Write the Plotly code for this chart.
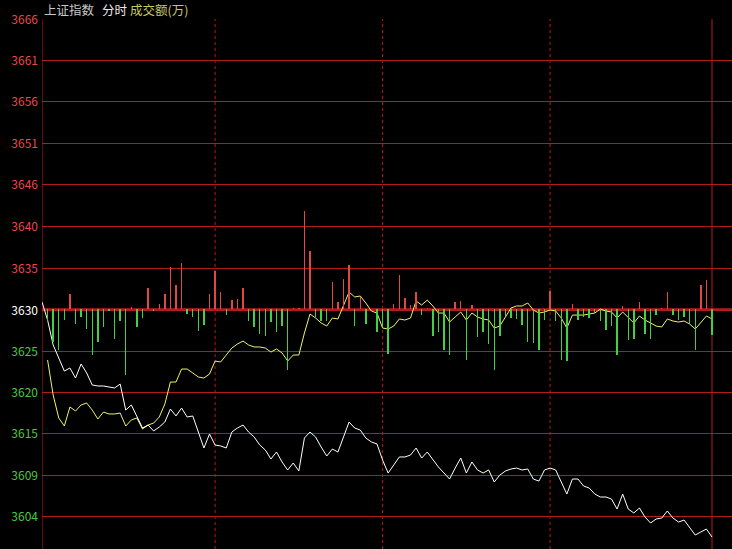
import plotly.graph_objects as go

# ---- data ----
minute_index = list(range(121))  # one point per 2 minutes

price = [
    3630.93, 3628.69, 3625.58, 3623.95, 3622.33, 3622.71, 3621.46, 3623.21, 3622.09, 3620.59,
    3620.47, 3620.47, 3620.34, 3620.22, 3620.71, 3617.47, 3618.10, 3616.60, 3615.23, 3615.60,
    3614.86, 3615.35, 3615.98, 3617.60, 3616.73, 3617.72, 3616.60, 3616.73, 3614.73, 3612.74,
    3614.48, 3613.11, 3612.99, 3612.74, 3614.73, 3615.23, 3615.60, 3614.73, 3614.11, 3613.11,
    3612.49, 3611.37, 3612.24, 3610.99, 3610.00, 3610.87, 3609.87, 3613.98, 3614.73, 3614.11,
    3612.86, 3611.74, 3612.61, 3612.24, 3614.11, 3615.98, 3615.23, 3614.98, 3613.98, 3613.49,
    3613.24, 3611.24, 3609.62, 3610.62, 3611.62, 3611.62, 3611.86, 3612.74, 3611.49, 3612.24,
    3611.24, 3610.37, 3609.62, 3608.87, 3610.24, 3611.49, 3609.62, 3610.99, 3610.00, 3609.62,
    3610.00, 3608.50, 3609.37, 3609.87, 3610.12, 3610.24, 3610.00, 3610.12, 3608.87, 3608.62,
    3610.00, 3610.24, 3610.00, 3608.50, 3607.00, 3608.87, 3608.87, 3608.00, 3607.75, 3607.00,
    3606.63, 3606.63, 3606.38, 3605.13, 3607.00, 3605.13, 3604.64, 3605.26, 3604.14, 3603.39,
    3603.89, 3604.01, 3604.89, 3604.01, 3603.51, 3603.76, 3602.89, 3601.89, 3602.27, 3602.64,
    3601.64,
]

avg_line = [
    None, 3623.71, 3619.34, 3616.48, 3615.48, 3617.85, 3617.35, 3618.10, 3618.35, 3617.47,
    3616.35, 3617.22, 3616.98, 3616.98, 3617.10, 3615.48, 3616.23, 3616.48, 3615.11, 3615.60,
    3615.85, 3616.60, 3618.22, 3620.96, 3620.96, 3622.58, 3622.58, 3622.09, 3621.59, 3621.46,
    3621.96, 3623.58, 3623.46, 3624.33, 3625.20, 3625.70, 3626.07, 3625.58, 3625.33, 3625.33,
    3625.20, 3624.70, 3625.08, 3624.58, 3623.58, 3624.33, 3624.33, 3627.07, 3629.44, 3628.94,
    3628.32, 3627.94, 3628.94, 3628.82, 3630.44, 3632.18, 3631.56, 3631.68, 3630.81, 3629.81,
    3629.56, 3627.69, 3627.57, 3627.94, 3628.82, 3628.69, 3628.94, 3631.06, 3630.56, 3631.18,
    3630.44, 3629.56, 3629.56, 3628.44, 3629.07, 3629.69, 3628.69, 3629.56, 3629.07, 3628.82,
    3628.69, 3627.69, 3627.94, 3629.07, 3630.19, 3630.44, 3630.44, 3630.81, 3629.94, 3629.56,
    3629.69, 3629.94, 3629.81, 3628.94, 3627.69, 3629.31, 3629.31, 3629.31, 3629.44, 3629.56,
    3630.06, 3629.81, 3629.69, 3628.94, 3629.69, 3628.94, 3628.32, 3629.19, 3628.69, 3628.32,
    3627.94, 3627.82, 3628.82, 3628.57, 3628.44, 3628.57, 3628.19, 3627.57, 3628.44, 3629.19,
    3628.82,
]

# signed turnover bars (positive = red, negative = green)
amount = [
    0, -120, -330, -410, -110, 155, -150, -80, -200, -460,
    -330, -180, -20, -295, -115, -660, 20, -180, -90, 210,
    -20, 55, 155, 420, 245, 460, -45, -80, -220, -160,
    155, 380, 170, -55, 95, 105, 210, -115, -180, -245,
    -265, -130, -230, -170, -610, 10, 15, 980, 585, -80,
    -115, -115, 270, 70, 305, 445, -170, 120, -150, 0,
    -230, -180, -450, 55, 345, 110, 40, 170, -55, 10,
    -270, -230, -410, -460, 70, 80, -510, 40, -280, -230,
    -350, -610, -270, -70, -90, -100, -155, -330, -340, -410,
    -105, 185, -120, -510, -520, 55, -105, -80, -90, -40,
    -120, -210, -170, -460, 35, -310, -300, 70, -250, -300,
    -60, 15, 170, -55, -110, -80, -145, -410, 245, 295,
    -255,
]

base_price = 3630.0
# grid levels (as drawn by the terminal, rounded to its screen rows)
tick_vals = [3604.20, 3609.31, 3614.55, 3619.66, 3624.77, 3629.88, 3635.11,
             3640.35, 3645.58, 3650.69, 3655.93, 3661.04, 3666.15]
tick_labels = ["3604", "3609", "3615", "3620", "3625", "3630", "3635",
               "3640", "3646", "3651", "3656", "3661", "3666"]
session_marks = [31, 61, 91]
session_end = 120

# ---- styling ----
RED_GRID = "#b41c1c"
RED_TXT = "#e84848"
GREEN_TXT = "#48c848"


def label_color(label):
    v = float(label)
    if v == base_price:
        return "#ffffff"
    return RED_TXT if v > base_price else GREEN_TXT


tick_text = [f'<span style="color:{label_color(t)}">{t}</span>' for t in tick_labels]

bar_colors = ["#e04848" if a > 0 else "#44d044" for a in amount]

fig = go.Figure()
fig.add_trace(go.Bar(
    x=minute_index, y=amount, yaxis="y2",
    marker=dict(color=bar_colors, line=dict(width=0)),
    width=0.26, hoverinfo="skip",
))
fig.add_trace(go.Scatter(
    x=minute_index, y=avg_line, mode="lines",
    line=dict(color="#f2f266", width=1), hoverinfo="skip",
))
fig.add_trace(go.Scatter(
    x=minute_index, y=price, mode="lines",
    line=dict(color="#ffffff", width=1), hoverinfo="skip",
))

shapes = [
    dict(type="line", xref="x", yref="paper", x0=0, x1=0, y0=0, y1=1,
         line=dict(color=RED_GRID, width=1), layer="below"),
    dict(type="line", xref="x", yref="paper", x0=session_end, x1=session_end, y0=0, y1=1,
         line=dict(color=RED_GRID, width=1), layer="below"),
    dict(type="line", xref="paper", yref="y", x0=0, x1=1, y0=base_price, y1=base_price,
         line=dict(color=RED_GRID, width=2.5), layer="below"),
]
for m in session_marks:
    shapes.append(dict(type="line", xref="x", yref="paper", x0=m, x1=m, y0=0, y1=1,
                       line=dict(color=RED_GRID, width=1, dash="dot"), layer="below"))

annotations = [
    dict(text="上证指数", x=0, y=1.018, xref="paper", yref="paper",
         xanchor="left", yanchor="middle", showarrow=False,
         font=dict(color="#c8c8c8", size=12.5)),
    dict(text="分时", x=0.084, y=1.018, xref="paper", yref="paper",
         xanchor="left", yanchor="middle", showarrow=False,
         font=dict(color="#e8e8e8", size=12.5)),
    dict(text="成交额(万)", x=0.1246, y=1.018, xref="paper", yref="paper",
         xanchor="left", yanchor="middle", showarrow=False,
         font=dict(color="#c8c86a", size=12.5)),
]

fig.update_layout(
    width=732, height=549,
    margin=dict(l=42, r=0, t=19, b=0),
    paper_bgcolor="#000000", plot_bgcolor="#000000",
    showlegend=False, bargap=0,
    font=dict(family="Noto Sans CJK SC, DejaVu Sans, sans-serif", size=12, color="#ffffff"),
    xaxis=dict(range=[0, 123.58], showgrid=False, zeroline=False,
               showticklabels=False, ticks="", fixedrange=True),
    yaxis=dict(range=[3600.15, 3666.21], tickmode="array", tickvals=tick_vals,
               ticktext=tick_text, showgrid=True, gridcolor=RED_GRID, gridwidth=1,
               zeroline=False, ticks="", ticklabelstandoff=3,
               tickfont=dict(size=12)),
    yaxis2=dict(range=[-2395, 2900], overlaying="y", visible=False,
                showgrid=False, zeroline=False),
    shapes=shapes,
    annotations=annotations,
)

fig.write_html("out.html",
               config={"displayModeBar": False, "staticPlot": True},
               post_script="document.body.style.margin='0';document.body.style.overflow='hidden';")
